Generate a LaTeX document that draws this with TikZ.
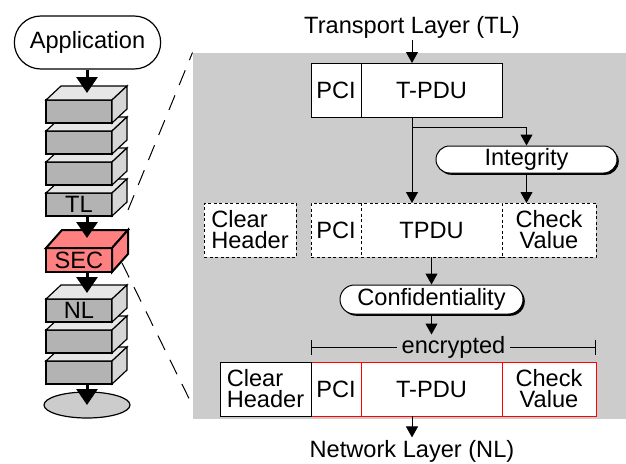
\documentclass[tikz,border=0pt]{standalone}
\usepackage{fontspec}
\setmainfont{Liberation Sans}
\usetikzlibrary{calc}
\usetikzlibrary{positioning}
\usetikzlibrary{arrows.meta}
\usetikzlibrary{shapes.misc}
\usetikzlibrary{shapes.geometric}
\usetikzlibrary{shadows}

\definecolor{panelgray}{RGB}{204,204,204}
\definecolor{slabfront}{RGB}{179,179,179}
\definecolor{slabtop}{RGB}{230,230,230}
\definecolor{slabside}{RGB}{214,214,214}
\definecolor{secred}{RGB}{255,128,128}

\newcommand{\layerfont}{\fontsize{23.6}{21}\selectfont}
% top and side face of a layer block: name, depth x, depth y, top style, side style
\newcommand{\slabfaces}[5]{%
  \draw[#4] (#1.north west) -- ++(#2,-#3) -- ([shift={(#2,-#3)}]#1.north east) -- (#1.north east) -- cycle;
  \draw[#5] (#1.north east) -- ([shift={(#2,-#3)}]#1.north east) -- ([shift={(#2,-#3)}]#1.south east) -- (#1.south east) -- cycle;
}

\tikzset{
  field/.style={draw, fill=white, minimum height=54pt, inner sep=0pt, outer sep=0pt, align=center},
  hidden/.style={field, dash pattern=on 3pt off 2.5pt},
  cipher/.style={field, draw=red},
  service/.style={rounded rectangle, draw, fill=white, inner sep=0pt,
    drop shadow={shadow xshift=1.8pt, shadow yshift=-1.8pt, fill=black, opacity=1}},
  flow/.style={-{Triangle[length=11pt, width=12pt]}},
  bigflow/.style={line width=3pt, -{Triangle[length=16pt, width=21pt]}},
  zoomline/.style={dash pattern=on 16pt off 11pt},
  slab/.style={draw, line width=1.2pt, fill=slabfront, minimum width=66pt, minimum height=23pt, inner sep=0pt, outer sep=0pt},
  secslab/.style={slab, line width=2pt, fill=secred, minimum height=24pt},
  graytop/.style={draw, line width=1.2pt, fill=slabtop},
  grayside/.style={draw, line width=1.2pt, fill=slabside},
  redface/.style={draw, line width=2pt, fill=secred},
}

\begin{document}
\begin{tikzpicture}[x=1pt, y=-1pt, line width=1pt, font=\layerfont]
  \useasboundingbox (0,0) rectangle (626,463);

  \node[fill=panelgray, minimum width=433pt, minimum height=366pt, inner sep=0pt] (panel) at (409.5,236) {};

  % protocol stack
  \node[rounded rectangle, draw, line width=1.2pt, minimum width=153pt, minimum height=53pt] (app) at (87.5,42.5) {Application};
  \coordinate (spine) at (87,0);

  \node[ellipse, draw, line width=1.2pt, fill=panelgray, minimum width=86pt, minimum height=26pt, inner sep=0pt] (base) at (87,405) {};

  \node[slab] (s7) at (79,372.5) {};
  \slabfaces{s7}{15}{14}{graytop}{grayside}
  \node[slab] (s6) at (79,341.5) {};
  \slabfaces{s6}{15}{14}{graytop}{grayside}
  \node[slab] (nlslab) at (79,310.5) {NL};
  \slabfaces{nlslab}{15}{14}{graytop}{grayside}
  \node[secslab] (sec) at (79,260) {SEC};
  \slabfaces{sec}{16}{18}{redface}{redface}
  \node[slab] (tlslab) at (79,204.5) {TL};
  \slabfaces{tlslab}{15}{14}{graytop}{grayside}
  \node[slab] (s3) at (79,173.5) {};
  \slabfaces{s3}{15}{14}{graytop}{grayside}
  \node[slab] (s2) at (79,142.5) {};
  \slabfaces{s2}{15}{14}{graytop}{grayside}
  \node[slab] (s1) at (79,111.5) {};
  \slabfaces{s1}{15}{14}{graytop}{grayside}

  \draw[bigflow] (spine |- app.south) -- ($(spine |- s1.north)+(0,-7)$);
  \draw[bigflow] (spine |- tlslab.south) -- ($(spine |- sec.north)+(0,-10)$);
  \draw[bigflow] (spine |- sec.south) -- ($(spine |- nlslab.north)+(0,-6)$);
  \draw[bigflow] (spine |- s7.south) -- (base.center);

  \draw[zoomline] ([shift={(16,-6)}]tlslab.south east) -- (panel.north west);
  \draw[zoomline] ([shift={(10,3)}]sec.east) -- ([shift={(0,-14)}]panel.south west);

  % security sublayer
  \node[anchor=base, inner sep=2pt] (transport) at (412,33) {Transport Layer (TL)};

  \node[field, minimum width=50pt] (pciA) at (336,90) {PCI};
  \node[field, minimum width=141pt, right=0pt of pciA] (tpduA) {T-PDU};

  \node[service, minimum width=181pt, minimum height=27pt] (integ) at (526.5,159.5) {Integrity};

  \node[hidden, minimum width=92pt, align=left] (clearB) at (250,230) {Clear\\Header};
  \node[hidden, minimum width=50pt] (pciB) at (336,230) {PCI};
  \node[hidden, minimum width=141pt, right=0pt of pciB] (tpduB) {TPDU};
  \node[hidden, minimum width=94pt, right=0pt of tpduB] (chkB) {Check\\Value};

  \node[service, minimum width=183pt, minimum height=29pt] (conf) at (431.5,299.5) {Confidentiality};

  \node[cipher, minimum width=50pt] (pciC) at (336,389) {PCI};
  \node[cipher, minimum width=141pt, right=0pt of pciC] (tpduC) {T-PDU};
  \node[cipher, minimum width=94pt, right=0pt of tpduC] (chkC) {Check\\Value};
  \node[field, minimum width=91pt, align=left, left=0pt of pciC] (clearC) {Clear\\Header};

  \coordinate (encL) at ([shift={(0,-15)}]pciC.north west);
  \coordinate (encR) at ([shift={(0,-15)}]chkC.north east);
  \draw[{Bar[width=15pt]}-{Bar[width=15pt]}] (encL) -- node[fill=panelgray, inner xsep=5pt, inner ysep=1pt] (enc) {encrypted} (encR);

  \node[anchor=base, inner sep=2pt] (network) at (412,457) {Network Layer (NL)};

  \coordinate (split) at ($(transport.south |- tpduA.south)+(0,10)$);
  \draw[flow] (transport.south) -- (transport.south |- tpduA.north);
  \draw (transport.south |- tpduA.south) -- (split);
  \draw[flow] (split) -- (split |- tpduB.north);
  \draw[flow] (split) -| (integ.north);
  \draw[flow] (integ.south) -- (integ.south |- chkB.north);
  \draw[flow] (conf.north |- tpduB.south) -- (conf.north);
  \draw[flow] (conf.south) -- (conf.south |- enc.north);
  \draw[flow] (network.north |- tpduC.south) -- (network.north);
\end{tikzpicture}
\end{document}
